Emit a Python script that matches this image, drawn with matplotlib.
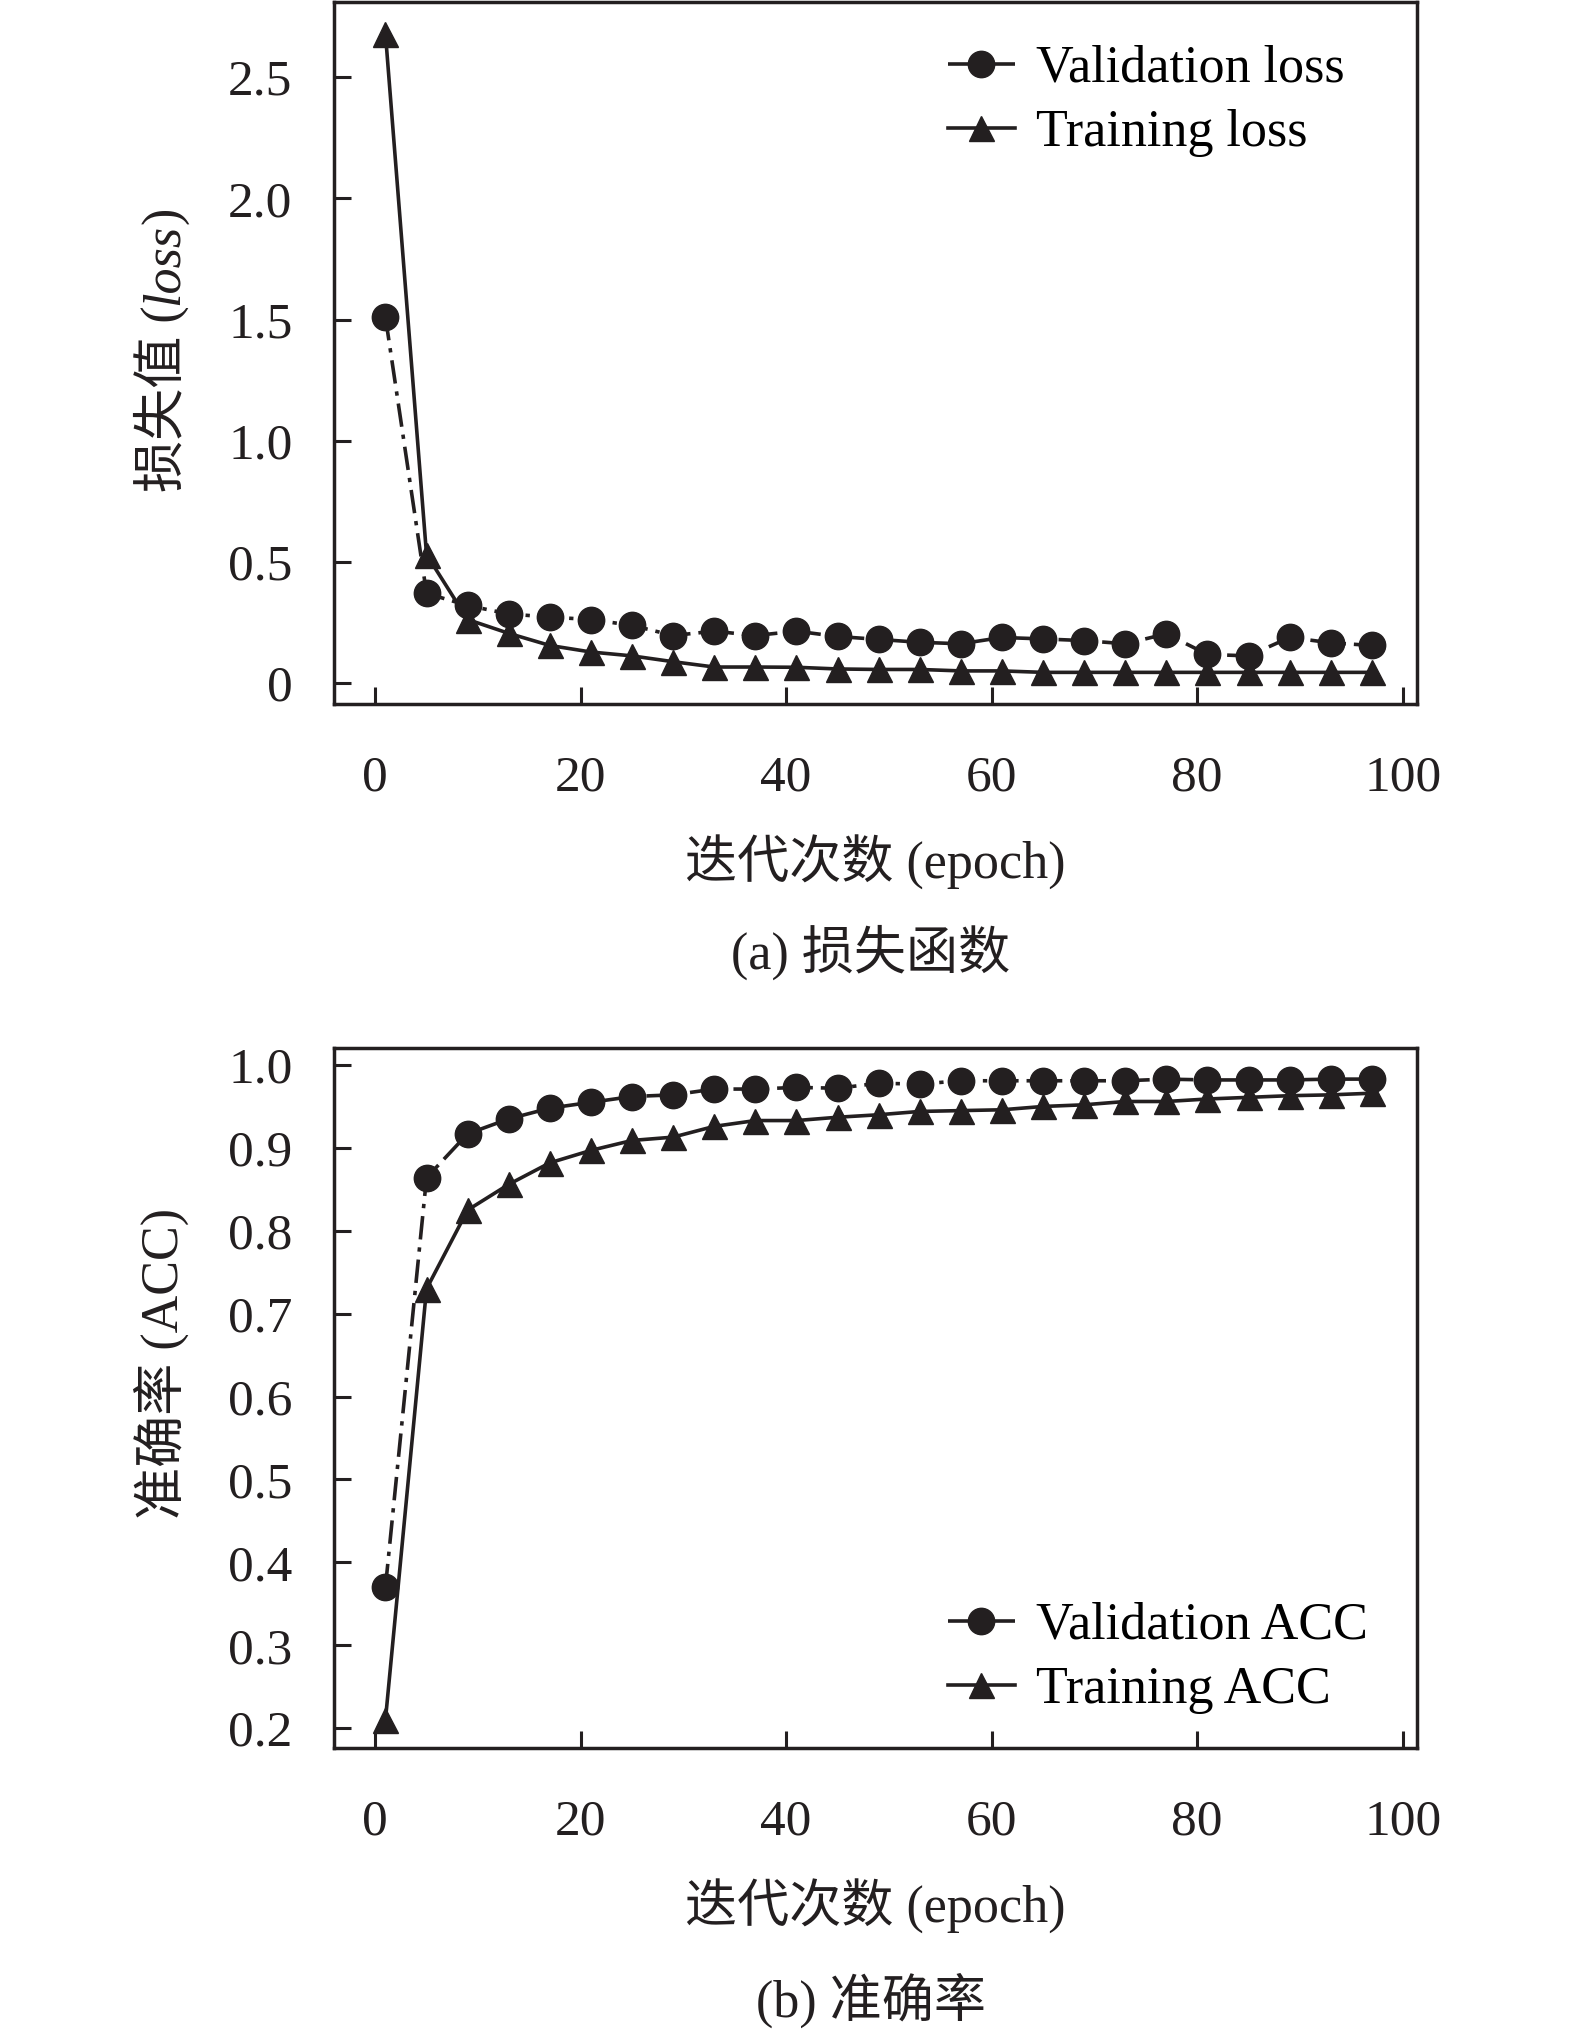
import matplotlib
matplotlib.use("Agg")
import matplotlib.pyplot as plt

plt.rcParams['font.family'] = ['Liberation Serif', 'Noto Sans CJK SC']

# ---- data ----
epochs = [1, 5, 9, 13, 17, 21, 25, 29, 33, 37, 41, 45, 49,
          53, 57, 61, 65, 69, 73, 77, 81, 85, 89, 93, 97]

val_loss = [1.51, 0.37, 0.32, 0.285, 0.272, 0.262, 0.238, 0.196, 0.214, 0.196, 0.214, 0.192, 0.180,
            0.168, 0.162, 0.188, 0.182, 0.175, 0.162, 0.203, 0.118, 0.112, 0.188, 0.166, 0.155]
train_loss = [2.68, 0.53, 0.262, 0.205, 0.155, 0.128, 0.112, 0.088, 0.066, 0.066, 0.065, 0.058, 0.056,
              0.056, 0.050, 0.050, 0.044, 0.044, 0.044, 0.044, 0.044, 0.044, 0.044, 0.044, 0.044]

val_acc = [0.37, 0.864, 0.917, 0.935, 0.948, 0.955, 0.962, 0.964, 0.971, 0.971, 0.973, 0.972, 0.978,
           0.977, 0.981, 0.981, 0.981, 0.981, 0.981, 0.983, 0.982, 0.982, 0.982, 0.983, 0.983]
train_acc = [0.21, 0.730, 0.825, 0.856, 0.882, 0.897, 0.909, 0.913, 0.926, 0.933, 0.933, 0.937, 0.940,
             0.944, 0.945, 0.946, 0.950, 0.952, 0.956, 0.956, 0.959, 0.961, 0.963, 0.964, 0.966]

loss_ticks = [0, 0.5, 1.0, 1.5, 2.0, 2.5]
loss_ticklabels = ['0', '0.5', '1.0', '1.5', '2.0', '2.5']
acc_ticks = [0.2, 0.3, 0.4, 0.5, 0.6, 0.7, 0.8, 0.9, 1.0]
acc_ticklabels = ['0.2', '0.3', '0.4', '0.5', '0.6', '0.7', '0.8', '0.9', '1.0']
x_ticks = [0, 20, 40, 60, 80, 100]

ink = '#231f20'
fs = 37.5
W, H = 1575, 2035

fig = plt.figure(figsize=(15.75, 20.35), dpi=100)
ax1 = fig.add_axes([0.2121, 0.654, 0.6876, 0.345])
ax2 = fig.add_axes([0.2121, 0.141, 0.6876, 0.344])


def style_axes(ax):
    for s in ax.spines.values():
        s.set_linewidth(2.5)
        s.set_color(ink)
    ax.tick_params(direction='in', length=12, width=2.2, colors=ink,
                   labelsize=37, top=False, right=False)
    ax.tick_params(axis='x', pad=37)
    ax.tick_params(axis='y', pad=30)
    ax.set_xlim(-4.0, 101.4)
    ax.set_xticks(x_ticks)
    ax.set_xticklabels([str(t) for t in x_ticks])
    ax.set_xlabel('迭代次数 (epoch)', fontsize=fs, color=ink)
    ax.xaxis.set_label_coords(0.5, -0.187)


def draw(ax, yv, yt, lab_v, lab_t, legend_top):
    ax.plot(epochs, yv, color=ink, lw=2.6, linestyle=(0, (6.5, 2.2, 1.2, 2.2)),
            marker='o', markersize=19, label=lab_v)
    ax.plot(epochs, yt, color=ink, lw=2.6, linestyle='-',
            marker='^', markersize=18, label=lab_t)
    ax.legend(loc='upper left', bbox_to_anchor=(0.6016, legend_top),
              bbox_transform=fig.transFigure, frameon=False, fontsize=fs,
              borderpad=0, borderaxespad=0, handlelength=1.3,
              handletextpad=0.4, labelspacing=0.31, numpoints=1)


def vertical_label(pieces, x_base, y_center):
    # rotated label built from pieces so the italic part can sit next to CJK text
    rend = fig.canvas.get_renderer()
    texts = []
    for s, style in pieces:
        t = fig.text(0, 0, s, fontsize=fs, color=ink, style=style, rotation=90,
                     rotation_mode='anchor', ha='left', va='baseline',
                     transform=None)
        texts.append(t)
    lens = [t.get_window_extent(rend).height for t in texts]
    y = y_center - sum(lens) / 2
    for t, n in zip(texts, lens):
        t.set_position((x_base, y))
        y += n


# (a) loss
style_axes(ax1)
draw(ax1, val_loss, train_loss, 'Validation loss', 'Training loss', 0.978)
ax1.set_ylim(-0.087, 2.81)
ax1.set_yticks(loss_ticks)
ax1.set_yticklabels(loss_ticklabels)
vertical_label([('损失值 (', 'normal'), ('loss', 'italic'), (')', 'normal')],
               178, H - 349)

# (b) accuracy
style_axes(ax2)
draw(ax2, val_acc, train_acc, 'Validation ACC', 'Training ACC', 0.2128)
ax2.set_ylim(0.176, 1.0205)
ax2.set_yticks(acc_ticks)
ax2.set_yticklabels(acc_ticklabels)
vertical_label([('准确率 (ACC)', 'normal')], 178, H - 1363)

fig.text(0.553, 1 - 952 / H, '(a) 损失函数', fontsize=fs, color=ink,
         ha='center', va='center')
fig.text(0.553, 1 - 2000 / H, '(b) 准确率', fontsize=fs, color=ink,
         ha='center', va='center')

fig.savefig('out.png', dpi=100)
